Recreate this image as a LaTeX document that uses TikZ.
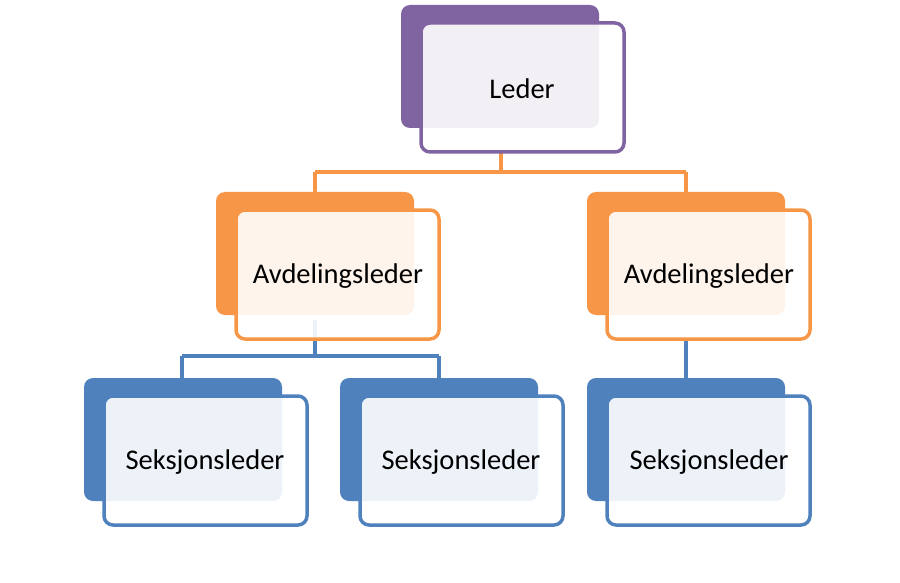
\documentclass[tikz,border=0pt]{standalone}
\usepackage{fontspec}
\setmainfont{Carlito}
\begin{document}
\begin{tikzpicture}[x=1pt,y=-1pt,
  back/.style={rounded corners=9pt,fill=#1,draw=none},
  front/.style={rounded corners=9pt,draw=#1,line width=3.5pt,fill=white,fill opacity=0.9},
  lbl/.style={font=\fontsize{28.5}{33}\selectfont,text=black},
  con/.style={draw=#1,line width=3.5pt}]
\useasboundingbox (0,0) rectangle (900,583);
\definecolor{pur}{HTML}{8064A2}
\definecolor{ora}{HTML}{F79646}
\definecolor{blu}{HTML}{4F81BD}
% connectors
\coordinate (l0) at (501,152); \coordinate (l1) at (501,172);
\coordinate (l2) at (315,172); \coordinate (l3) at (315,195);
\coordinate (l4) at (686,172); \coordinate (l5) at (686,195);
\draw[con=ora] (l0)--(l1) (l2)--(l4) (l2)--(l3) (l4)--(l5);
\coordinate (a0) at (315,320); \coordinate (a1) at (315,356);
\coordinate (a2) at (182,356); \coordinate (a3) at (182,380);
\coordinate (a4) at (439,356); \coordinate (a5) at (439,380);
\draw[con=blu] (a0)--(a1) (a2)--(a4) (a2)--(a3) (a4)--(a5);
\coordinate (b0) at (686,339); \coordinate (b1) at (686,380);
\draw[con=blu] (b0)--(b1);
% boxes
\newcommand\mybox[6]{%
 \fill[back=#3] (#1,#2) rectangle ++(198,123);
 \draw[front=#3] (#1+20,#2+18) rectangle ++(203,129);
 \node[lbl] (#5) at (#1+#6,#2+84) {#4};}
\mybox{401}{5}{pur}{Leder}{leder}{121}
\mybox{216}{192}{ora}{Avdelingsleder}{av1}{122}
\mybox{587}{192}{ora}{Avdelingsleder}{av2}{122}
\mybox{84}{378}{blu}{Seksjonsleder}{s1}{121}
\mybox{340}{378}{blu}{Seksjonsleder}{s2}{121}
\mybox{587}{378}{blu}{Seksjonsleder}{s3}{122}
\end{tikzpicture}
\end{document}
